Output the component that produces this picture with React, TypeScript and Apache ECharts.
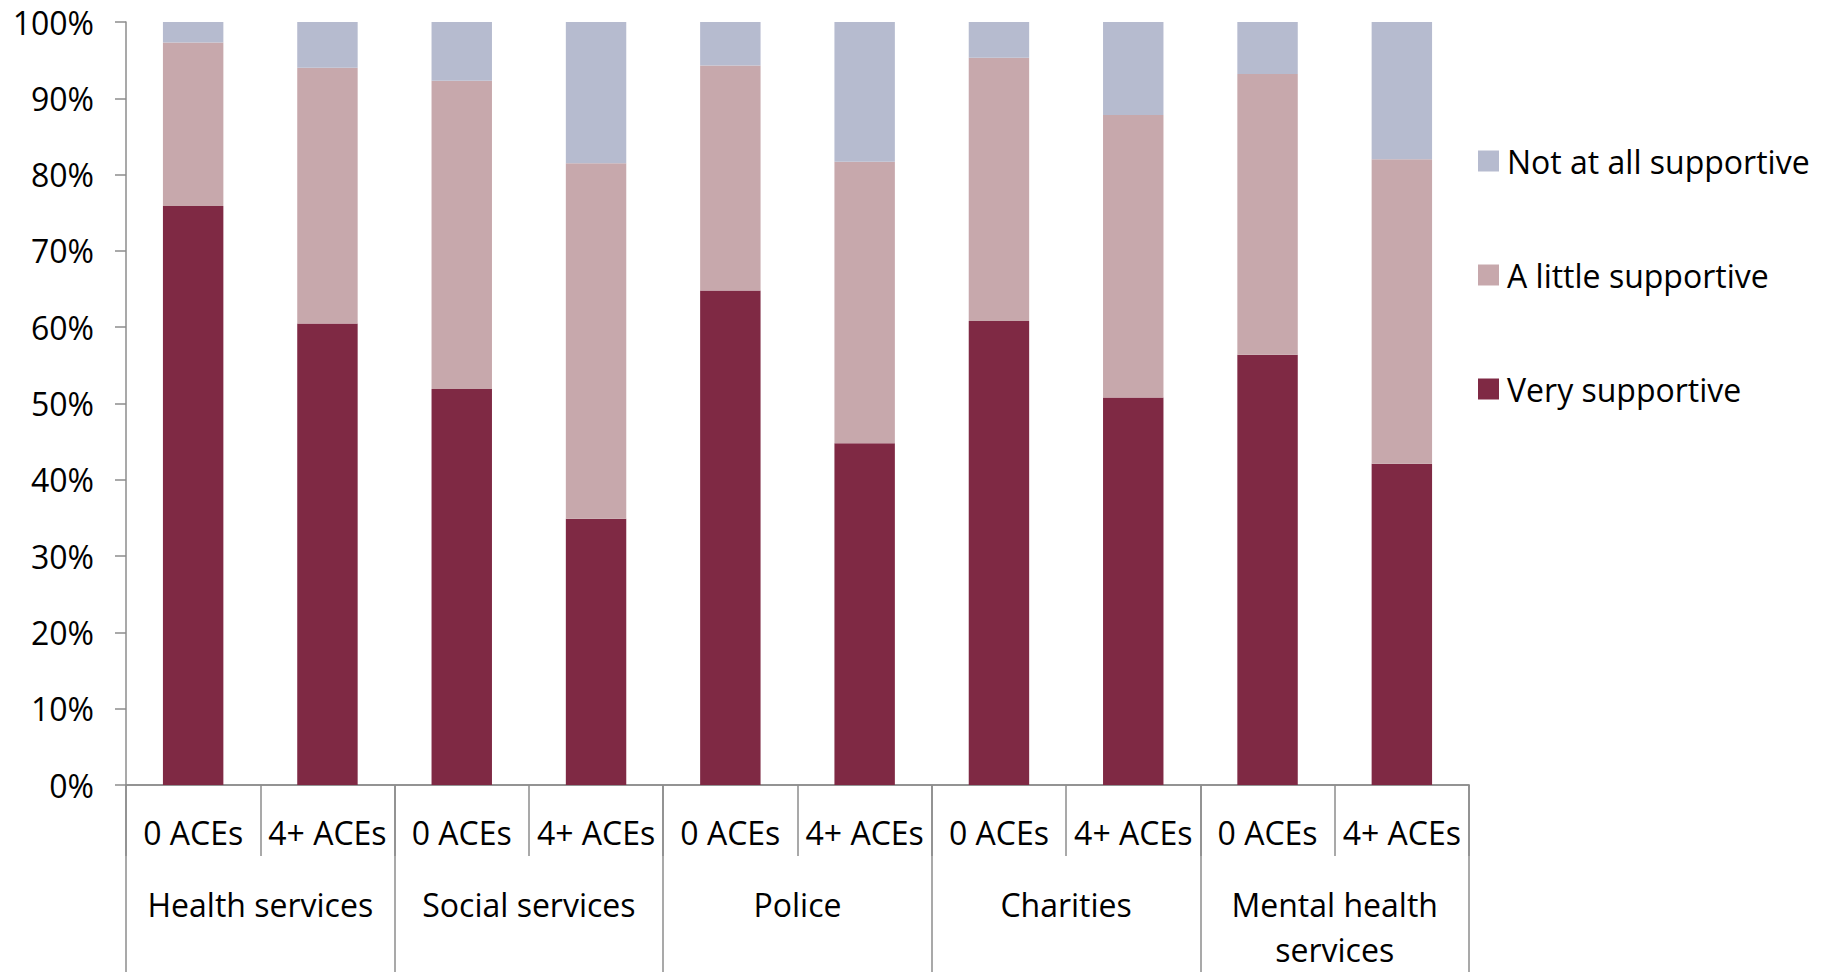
import React, { useEffect, useRef } from "react";
import * as echarts from "echarts";

// Sub-categories (one bar each) and their parent service groups
const subCategories = [
  "0 ACEs", "4+ ACEs",
  "0 ACEs", "4+ ACEs",
  "0 ACEs", "4+ ACEs",
  "0 ACEs", "4+ ACEs",
  "0 ACEs", "4+ ACEs",
];
const groups = [
  "Health services",
  "Social services",
  "Police",
  "Charities",
  "Mental health\nservices",
];

// Share of respondents (%) per response, stacked bottom to top
const verySupportive = [75.9, 60.5, 51.9, 34.9, 64.8, 44.8, 60.8, 50.8, 56.4, 42.1];
const aLittleSupportive = [21.4, 33.5, 40.4, 46.6, 29.5, 36.9, 34.5, 37.0, 36.8, 39.9];
const notAtAllSupportive = [2.7, 6.0, 7.7, 18.5, 5.7, 18.3, 4.7, 12.2, 6.8, 18.0];

const yTicks = { min: 0, max: 100, interval: 10 };

const FONT = "'Open Sans', 'Noto Sans', sans-serif";
const AXIS_GREY = "#8c8c8c";

export default function App() {
  const ref = useRef<HTMLDivElement>(null);

  useEffect(() => {
    if (!ref.current) return;
    const chart = echarts.init(ref.current, undefined, { renderer: "svg" });

    chart.setOption({
      animation: false,
      backgroundColor: "#ffffff",
      textStyle: { fontFamily: FONT, color: "#000" },
      grid: { left: 126, right: 363, top: 22, bottom: 181, containLabel: false },
      legend: {
        orient: "vertical",
        left: 1473,
        top: 140,
        itemWidth: 21,
        itemHeight: 21,
        itemGap: 82,
        icon: "rect",
        data: ["Not at all supportive", "A little supportive", "Very supportive"],
        textStyle: {
          fontFamily: FONT,
          fontSize: 32,
          lineHeight: 32,
          color: "#000",
          padding: [0, 0, 0, 3],
        },
      },
      xAxis: [
        {
          type: "category",
          data: subCategories,
          position: "bottom",
          axisLine: { show: true, lineStyle: { color: AXIS_GREY, width: 1.5 } },
          axisTick: {
            show: true,
            length: 71,
            interval: 0,
            lineStyle: { color: AXIS_GREY, width: 1.5 },
          },
          axisLabel: {
            interval: 0,
            margin: 27,
            fontFamily: FONT,
            fontSize: 32,
            lineHeight: 40,
            color: "#000",
          },
          splitLine: { show: false },
        },
        {
          type: "category",
          data: groups,
          position: "bottom",
          axisLine: { show: true, lineStyle: { color: AXIS_GREY, width: 1.5 } },
          axisTick: {
            show: true,
            length: 220,
            interval: 0,
            lineStyle: { color: AXIS_GREY, width: 1.5 },
          },
          axisLabel: {
            interval: 0,
            margin: 97,
            fontFamily: FONT,
            fontSize: 32,
            lineHeight: 45,
            color: "#000",
            align: "center",
          },
          splitLine: { show: false },
        },
      ],
      yAxis: {
        type: "value",
        min: yTicks.min,
        max: yTicks.max,
        interval: yTicks.interval,
        axisLine: { show: true, lineStyle: { color: AXIS_GREY, width: 1.5 } },
        axisTick: { show: true, length: 11, lineStyle: { color: AXIS_GREY, width: 1.5 } },
        axisLabel: {
          margin: 32,
          formatter: "{value}%",
          fontFamily: FONT,
          fontSize: 32,
          color: "#000",
        },
        splitLine: { show: false },
      },
      series: [
        {
          name: "Very supportive",
          type: "bar",
          stack: "total",
          xAxisIndex: 0,
          barWidth: "45%",
          data: verySupportive,
          itemStyle: { color: "#7f2944" },
        },
        {
          name: "A little supportive",
          type: "bar",
          stack: "total",
          xAxisIndex: 0,
          barWidth: "45%",
          data: aLittleSupportive,
          itemStyle: { color: "#c7a8ac" },
        },
        {
          name: "Not at all supportive",
          type: "bar",
          stack: "total",
          xAxisIndex: 0,
          barWidth: "45%",
          data: notAtAllSupportive,
          itemStyle: { color: "#b6bbcf" },
        },
      ],
    });

    return () => chart.dispose();
  }, []);

  return (
    <div
      ref={ref}
      style={{ position: "fixed", left: 0, top: 0, width: 1832, height: 972, background: "#fff" }}
    />
  );
}
